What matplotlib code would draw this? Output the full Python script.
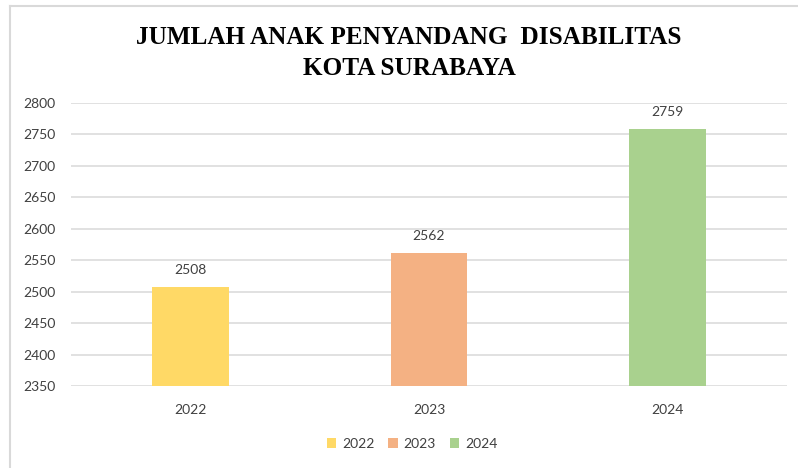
import matplotlib
matplotlib.use("Agg")
import matplotlib.pyplot as plt
from matplotlib.lines import Line2D
from matplotlib.patches import Patch

categories = ["2022", "2023", "2024"]
values = [2508, 2562, 2759]
colors = ["#FFD966", "#F4B183", "#A9D18E"]
yticks = [2350, 2400, 2450, 2500, 2550, 2600, 2650, 2700, 2750, 2800]
title = "JUMLAH ANAK PENYANDANG  DISABILITAS\nKOTA SURABAYA"

plt.rcParams['font.family'] = ['Lato', 'DejaVu Sans']
text_color = "#404040"

fig = plt.figure(figsize=(7.98, 4.68), dpi=100)
ax = fig.add_axes([71/798, 1-386/468, (787-71)/798, (386-103)/468])

x = list(range(len(categories)))
bars = ax.bar(x, [v - yticks[0] for v in values], bottom=yticks[0], width=0.32,
              color=colors, zorder=3)
for xi, v in zip(x, values):
    ax.annotate(str(v), (xi, v), xytext=(0, 8), textcoords="offset points",
                ha="center", va="bottom", fontsize=10, color=text_color)

ax.set_xlim(-0.5, len(categories) - 0.5)
ax.set_ylim(yticks[0], yticks[-1])
ax.set_yticks(yticks)
ax.set_xticks(x)
ax.set_xticklabels(categories)
ax.tick_params(axis="y", length=0, pad=11, labelsize=10, labelcolor=text_color)
ax.tick_params(axis="x", length=0, pad=13, labelsize=10, labelcolor=text_color)
ax.grid(axis="y", color="#D9D9D9", linewidth=1.1, zorder=0)
for s in ax.spines.values():
    s.set_visible(False)

fig.text(409/798, 1-53/468, title, ha="center", va="center",
         fontsize=18.2, fontweight="bold", family="Liberation Serif",
         linespacing=1.45, color="black")

handles = [Patch(facecolor=c, edgecolor="none", label=l) for c, l in zip(colors, categories)]
fig.legend(handles=handles, loc="center", bbox_to_anchor=(412/798, 1-444/468),
           ncol=3, frameon=False, fontsize=10, handlelength=0.7, handleheight=0.7,
           handletextpad=0.4, columnspacing=1.0, labelcolor=text_color)

fig.add_artist(Line2D([10/798, 1], [1-6/468, 1-6/468], color="#D9D9D9", linewidth=1.5,
                      transform=fig.transFigure))
fig.add_artist(Line2D([10/798, 10/798], [0, 1-6/468], color="#D9D9D9", linewidth=1.5,
                      transform=fig.transFigure))

fig.savefig("out.png", dpi=100)
